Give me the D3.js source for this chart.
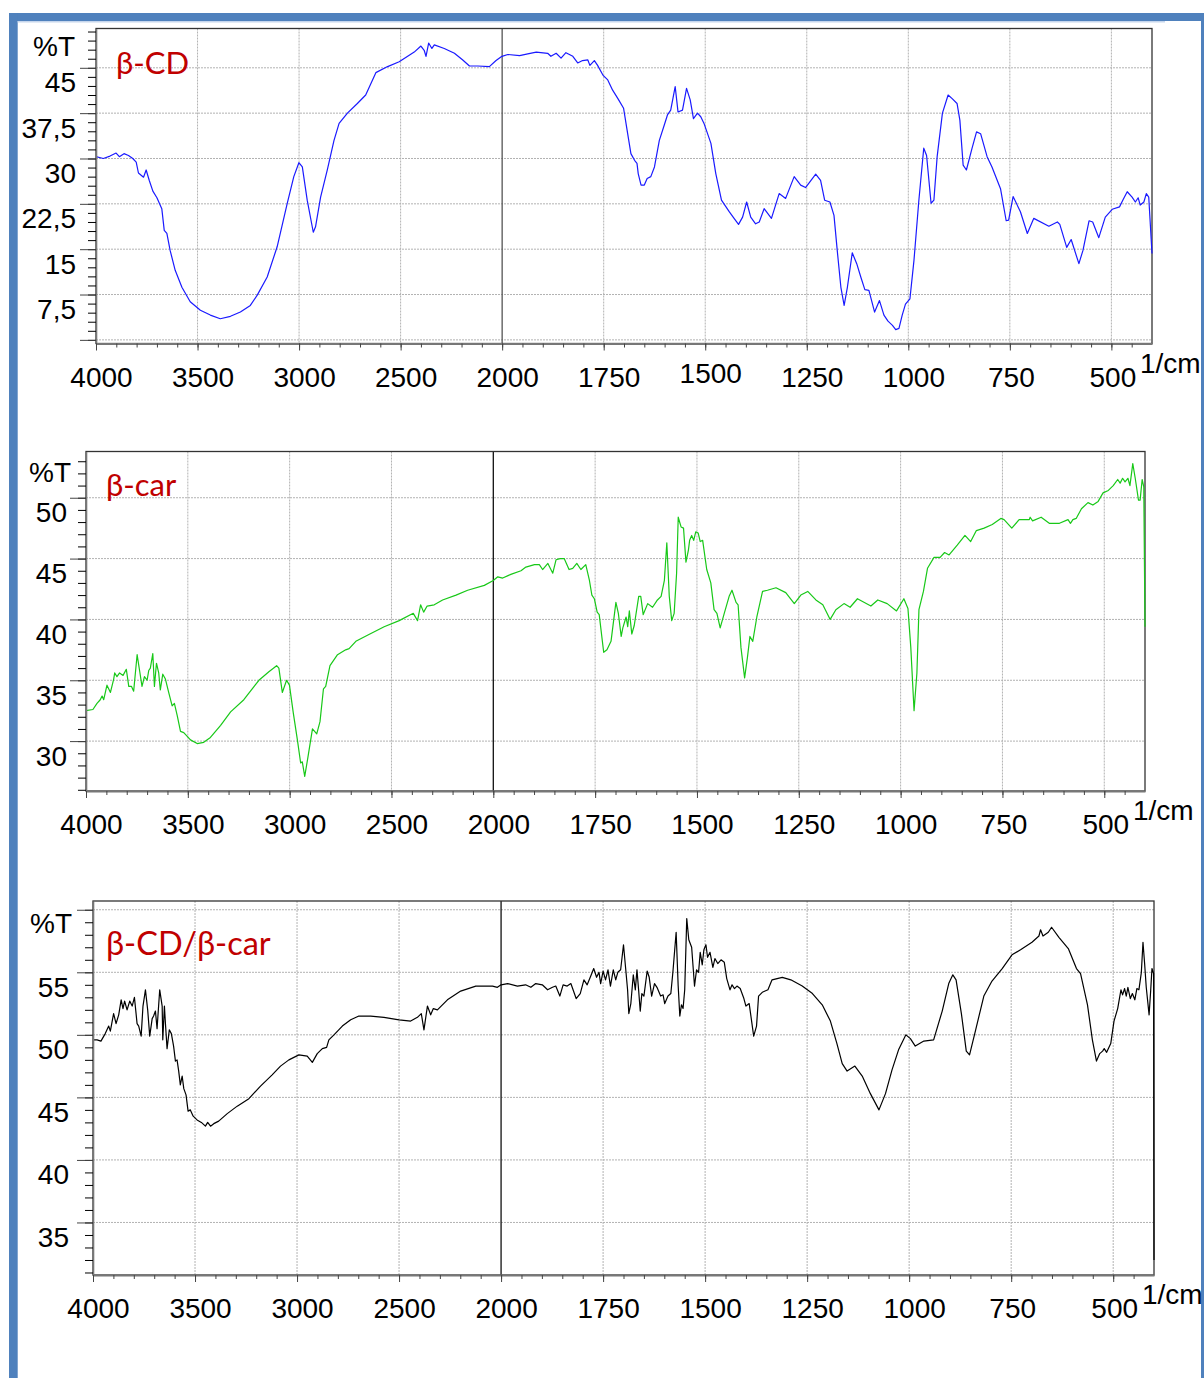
<!DOCTYPE html>
<html>
<head>
<meta charset="utf-8">
<script src="https://cdn.jsdelivr.net/npm/d3@7"></script>
<style>
  html, body { margin: 0; padding: 0; background: #fff; }
  svg { display: block; }
</style>
</head>
<body>
<svg id="chart" width="1204" height="1378"></svg>
<script>
'use strict';

// FTIR-Spektren: β-CD, β-Carotin und Einschlusskomplex.
// Die x-Achse ist zweigeteilt wie beim Shimadzu-Plot:
// 4000–2000 1/cm halb so breit skaliert wie 2000–400 1/cm.

const X_BREAKS = [4000, 2000, 400];
const X_MAJOR = [4000, 3500, 3000, 2500, 2000, 1750, 1500, 1250, 1000, 750, 500];
const X_LABELS = ['4000', '3500', '3000', '2500', '2000', '1750', '1500', '1250', '1000', '750', '500'];

const CD_TICKS = [0, 7.5, 15, 22.5, 30, 37.5, 45];
const CD_LABELS = ['', '7,5', '15', '22,5', '30', '37,5', '45'];
const CAR_TICKS = [30, 35, 40, 45, 50];
const CAR_LABELS = ['30', '35', '40', '45', '50'];
const MIX_TICKS = [35, 40, 45, 50, 55, 60];
const MIX_LABELS = ['35', '40', '45', '50', '55', ''];

// [Wellenzahl 1/cm, %T]
const betaCD = [[4000,30.3],[3964,30.0],[3931,30.4],[3901,30.9],[3885,30.3],[3862,30.8],[3840,30.5],[3819,30.0],[3802,29.4],[3791,27.6],[3766,26.9],[3753,28.1],[3738,26.4],[3720,24.6],[3700,23.5],[3676,21.7],[3664,18.1],[3651,17.6],[3635,14.8],[3610,11.5],[3577,8.7],[3536,6.3],[3486,4.9],[3437,4.1],[3388,3.5],[3338,3.9],[3289,4.6],[3240,5.7],[3206,7.4],[3157,10.4],[3108,15.4],[3058,22.6],[3026,27.0],[3001,29.3],[2984,28.6],[2960,23.1],[2930,17.8],[2919,18.7],[2894,23.6],[2861,28.1],[2828,33.0],[2803,35.8],[2762,37.5],[2713,39.1],[2672,40.5],[2622,44.2],[2564,45.2],[2507,46.0],[2433,47.6],[2400,48.6],[2384,47.9],[2375,46.9],[2362,49.1],[2346,48.2],[2334,48.8],[2285,48.2],[2235,47.4],[2194,46.3],[2161,45.3],[2120,45.3],[2063,45.2],[2030,46.2],[2001,46.9],[1986,47.2],[1957,47.0],[1937,47.3],[1916,47.6],[1888,47.4],[1880,46.9],[1867,47.4],[1855,46.6],[1843,47.5],[1826,46.9],[1814,45.8],[1802,46.2],[1789,46.3],[1784,45.4],[1773,46.2],[1765,45.4],[1752,43.8],[1740,43.0],[1728,41.3],[1715,39.9],[1701,38.3],[1691,34.1],[1683,30.8],[1674,29.7],[1668,29.2],[1665,27.5],[1658,25.6],[1650,25.6],[1643,26.7],[1634,27.0],[1625,28.6],[1613,33.0],[1601,35.5],[1593,37.2],[1585,38.0],[1574,41.9],[1567,37.7],[1556,38.0],[1546,41.6],[1537,39.7],[1529,36.6],[1519,37.5],[1511,36.9],[1503,35.8],[1486,32.5],[1474,27.5],[1460,23.1],[1441,21.2],[1429,20.1],[1418,19.1],[1408,20.3],[1398,22.8],[1388,20.3],[1376,19.2],[1367,19.5],[1355,21.7],[1337,20.1],[1318,24.2],[1302,23.4],[1281,27.0],[1265,25.6],[1253,25.2],[1228,27.4],[1216,26.4],[1206,23.1],[1193,22.8],[1183,20.6],[1175,14.8],[1166,8.7],[1158,5.7],[1150,8.7],[1138,14.4],[1127,12.6],[1117,10.4],[1107,8.3],[1097,8.2],[1083,4.6],[1071,6.5],[1060,4.1],[1050,3.1],[1039,2.4],[1031,1.7],[1023,1.9],[1015,4.1],[1007,5.9],[996,6.8],[986,13.2],[974,23.1],[962,31.7],[955,30.5],[944,22.6],[937,23.1],[929,30.3],[916,37.5],[902,40.5],[892,39.9],[880,39.1],[873,36.3],[865,28.9],[857,28.1],[843,31.7],[832,34.4],[822,34.1],[806,30.3],[794,28.6],[773,25.0],[759,19.7],[753,19.8],[742,23.7],[724,21.2],[707,17.6],[691,20.1],[654,18.8],[633,19.5],[627,19.1],[610,15.3],[599,16.6],[580,12.6],[570,14.8],[555,19.7],[546,19.5],[531,16.9],[515,20.3],[498,21.6],[480,22.0],[471,23.2],[461,24.5],[449,23.6],[441,22.8],[434,23.5],[429,22.3],[420,22.8],[414,24.2],[408,23.6],[400,14.3]];

const betaCar = [[4000,32.5],[3966,32.6],[3946,33.1],[3930,33.4],[3921,33.7],[3913,33.4],[3897,34.6],[3880,34.0],[3864,35.1],[3859,35.6],[3848,35.3],[3835,35.6],[3818,35.4],[3802,35.9],[3790,34.5],[3777,34.5],[3766,34.1],[3749,37.1],[3736,35.7],[3725,34.5],[3713,35.3],[3700,35.0],[3692,35.8],[3684,36.0],[3672,37.2],[3664,34.5],[3654,36.4],[3643,35.6],[3635,34.2],[3623,35.5],[3610,35.1],[3594,34.0],[3577,32.9],[3566,33.1],[3552,32.1],[3536,30.8],[3520,30.7],[3487,30.1],[3454,29.8],[3422,29.9],[3389,30.3],[3339,31.3],[3290,32.4],[3225,33.4],[3151,35.0],[3102,35.7],[3064,36.2],[3053,36.0],[3036,34.0],[3015,35.0],[3001,34.6],[2982,32.3],[2962,30.1],[2946,28.2],[2938,28.3],[2926,27.1],[2910,28.7],[2888,31.0],[2867,30.6],[2851,31.6],[2834,34.3],[2823,34.5],[2802,36.2],[2765,37.1],[2725,37.5],[2708,37.6],[2675,38.2],[2618,38.7],[2536,39.4],[2462,39.9],[2393,40.5],[2372,39.9],[2357,41.2],[2342,40.6],[2325,41.1],[2290,41.2],[2249,41.6],[2183,42.0],[2126,42.4],[2044,42.8],[2000,43.2],[1989,43.5],[1977,43.4],[1957,43.7],[1932,44.0],[1920,44.3],[1899,44.5],[1887,44.5],[1879,44.1],[1866,44.6],[1854,43.8],[1846,44.9],[1836,45.0],[1826,45.0],[1814,44.1],[1805,44.2],[1795,44.6],[1785,44.1],[1773,44.5],[1764,43.2],[1758,42.0],[1752,41.7],[1745,40.6],[1740,40.4],[1729,37.3],[1721,37.5],[1711,38.2],[1699,41.4],[1693,40.5],[1686,38.6],[1682,39.3],[1674,40.2],[1670,39.4],[1666,40.7],[1660,38.8],[1654,39.5],[1643,41.9],[1638,41.9],[1632,40.4],[1621,41.3],[1609,41.0],[1597,41.6],[1588,41.9],[1580,43.2],[1574,46.3],[1568,41.9],[1562,39.9],[1556,40.5],[1550,43.8],[1546,48.4],[1539,47.6],[1533,47.5],[1527,44.7],[1521,45.7],[1518,46.5],[1513,46.9],[1508,46.5],[1503,47.2],[1497,47.1],[1492,46.4],[1486,46.5],[1476,44.1],[1466,43.0],[1458,40.8],[1451,40.5],[1443,39.3],[1433,40.5],[1421,41.9],[1414,42.4],[1404,41.4],[1399,41.2],[1392,37.7],[1383,35.2],[1376,36.9],[1370,38.6],[1363,38.2],[1353,40.2],[1339,42.3],[1327,42.4],[1306,42.6],[1282,42.2],[1261,41.3],[1245,42.0],[1228,42.3],[1208,41.6],[1191,41.2],[1173,40.0],[1159,40.8],[1139,41.3],[1124,41.0],[1106,41.7],[1073,41.1],[1056,41.6],[1033,41.3],[1010,40.7],[992,41.7],[982,40.9],[975,37.7],[967,32.5],[960,35.6],[955,40.8],[944,42.3],[934,44.2],[918,45.1],[903,45.1],[892,45.5],[881,45.3],[861,46.1],[842,46.9],[828,46.4],[814,47.3],[795,47.5],[775,47.8],[754,48.3],[746,48.2],[727,47.5],[709,48.2],[684,48.2],[682,48.4],[676,48.1],[655,48.4],[635,47.9],[610,47.9],[589,48.2],[583,47.9],[577,48.2],[569,48.3],[556,49.1],[540,49.6],[528,49.4],[515,49.7],[503,50.4],[490,50.6],[478,51.0],[467,51.5],[461,51.2],[455,51.6],[449,51.3],[442,51.6],[437,51.0],[430,52.8],[424,51.6],[416,49.8],[412,49.8],[407,51.5],[403,50.9],[400,39.4]];

const betaMix = [[4000,49.6],[3980,49.6],[3961,49.5],[3940,50.1],[3923,50.7],[3915,50.3],[3899,51.7],[3887,50.9],[3874,51.6],[3862,52.8],[3853,52.1],[3845,52.7],[3833,52.0],[3820,52.7],[3808,52.3],[3797,53.0],[3784,50.9],[3776,50.7],[3764,49.9],[3755,52.3],[3743,53.6],[3732,52.0],[3722,49.9],[3710,51.3],[3703,51.5],[3694,51.9],[3686,50.5],[3673,53.6],[3661,52.3],[3658,49.6],[3650,52.3],[3645,50.9],[3637,48.9],[3626,50.4],[3616,50.1],[3605,49.1],[3596,47.9],[3588,48.0],[3580,47.1],[3572,46.0],[3563,46.7],[3555,45.7],[3544,45.2],[3534,43.9],[3523,44.0],[3509,43.5],[3490,43.2],[3469,43.0],[3449,42.7],[3438,43.0],[3424,42.7],[3408,42.9],[3384,43.1],[3342,43.7],[3293,44.3],[3236,44.9],[3179,45.9],[3122,46.8],[3081,47.5],[3040,48.0],[2991,48.4],[2950,48.3],[2925,47.8],[2901,48.5],[2876,48.9],[2855,49.0],[2844,49.6],[2819,50.0],[2778,50.7],[2737,51.2],[2697,51.5],[2639,51.5],[2574,51.4],[2500,51.2],[2443,51.1],[2410,51.4],[2391,51.7],[2378,50.4],[2361,52.3],[2345,51.6],[2332,52.1],[2312,52.0],[2263,52.8],[2198,53.5],[2124,53.9],[2042,53.9],[2018,53.8],[2000,54.0],[1984,54.1],[1960,53.9],[1940,54.0],[1927,53.8],[1915,54.1],[1899,54.0],[1886,53.6],[1874,53.8],[1866,53.9],[1856,53.1],[1848,54.0],[1838,53.9],[1829,54.1],[1816,52.9],[1806,53.3],[1797,54.4],[1789,54.0],[1779,54.8],[1773,55.3],[1766,54.6],[1760,55.0],[1756,54.1],[1750,55.1],[1744,54.4],[1738,55.2],[1732,53.9],[1725,55.2],[1719,54.4],[1714,55.0],[1707,55.2],[1700,57.2],[1695,55.4],[1690,53.6],[1687,51.7],[1682,52.5],[1676,54.8],[1671,53.6],[1667,55.2],[1663,53.6],[1659,51.9],[1655,53.3],[1650,53.1],[1642,55.1],[1637,54.6],[1631,53.1],[1624,54.1],[1618,53.8],[1609,53.1],[1603,53.2],[1599,52.5],[1591,53.1],[1584,53.3],[1579,55.0],[1571,58.2],[1566,53.9],[1562,51.5],[1558,52.4],[1554,52.1],[1550,53.6],[1545,59.3],[1540,57.6],[1533,57.0],[1526,53.9],[1521,55.2],[1516,55.0],[1512,56.6],[1507,55.6],[1503,56.8],[1498,57.2],[1494,56.2],[1488,56.6],[1481,55.4],[1476,56.1],[1469,55.7],[1461,56.0],[1453,55.8],[1447,54.5],[1439,53.6],[1434,54.0],[1428,53.7],[1422,53.9],[1414,53.7],[1405,52.9],[1400,52.3],[1392,52.5],[1381,49.9],[1374,50.7],[1369,53.1],[1360,53.4],[1346,53.6],[1336,54.4],[1311,54.6],[1290,54.4],[1262,53.9],[1237,53.3],[1213,52.4],[1193,51.1],[1177,49.3],[1164,47.7],[1152,47.1],[1133,47.5],[1115,46.7],[1095,45.3],[1074,44.0],[1058,45.3],[1042,47.2],[1026,48.8],[1008,50.0],[997,49.7],[985,49.1],[964,49.5],[940,49.6],[919,51.9],[903,54.1],[893,54.8],[885,54.4],[872,51.7],[860,48.7],[852,48.4],[837,50.4],[817,53.1],[797,54.3],[772,55.3],[748,56.4],[727,56.8],[699,57.4],[682,57.9],[678,58.4],[672,57.9],[659,58.2],[651,58.6],[633,57.8],[610,56.9],[590,55.3],[580,54.9],[563,52.4],[551,49.6],[541,47.9],[533,48.5],[526,48.7],[522,48.9],[516,48.6],[506,49.3],[498,51.1],[489,52.1],[481,53.6],[477,53.2],[472,53.7],[468,53.1],[464,53.8],[458,52.9],[453,53.3],[447,52.8],[442,53.7],[437,53.6],[431,55.0],[427,57.4],[423,55.7],[419,53.8],[412,51.6],[408,53.6],[405,55.3],[401,54.9],[400,32.0]];

const FONT = '"Liberation Sans", Arial, sans-serif';
const TITLE_FONT = 'Lato, "Open Sans", sans-serif';
const TITLE_RED = '#c00000';
const FRAME_BLUE = '#4f81bd';

const panels = [
  { title: 'β-CD', data: betaCD, color: '#1a1aff', divider: '#555',
    left: 96, right: 1152, top: 28.5, bottom: 343.5,
    yDomain: [-0.6, 51.5], yTicks: CD_TICKS, yLabels: CD_LABELS, yMinor: [0, 51, 1.5],
    labelGap: 4, unitX: 75, unitY: 56, titleX: 116, titleY: 74, titleSize: 31, raised: 1500 },
  { title: 'β-car', data: betaCar, color: '#18c818', divider: '#111',
    left: 86, right: 1145, top: 451.5, bottom: 791,
    yDomain: [25.9, 53.8], yTicks: CAR_TICKS, yLabels: CAR_LABELS, yMinor: [26, 53, 1],
    labelGap: 3, unitX: 71, unitY: 482, titleX: 106, titleY: 496, titleSize: 31, raised: null },
  { title: 'β-CD/β-car', data: betaMix, color: '#000', divider: '#111',
    left: 93, right: 1154, top: 901, bottom: 1275,
    yDomain: [30.8, 60.7], yTicks: MIX_TICKS, yLabels: MIX_LABELS, yMinor: [31, 60, 1],
    labelGap: 8, unitX: 72, unitY: 933, titleX: 106, titleY: 955, titleSize: 32.5, raised: null }
];

const svg = d3.select('#chart');

// blauer Rahmen wie im Original-Dokument
svg.append('rect').attr('x', 9).attr('y', 13).attr('width', 1195).attr('height', 8).attr('fill', FRAME_BLUE);
svg.append('rect').attr('x', 9).attr('y', 13).attr('width', 8.7).attr('height', 1365).attr('fill', FRAME_BLUE);
svg.append('rect').attr('x', 1201).attr('y', 13).attr('width', 3).attr('height', 1365).attr('fill', FRAME_BLUE);
svg.append('line').attr('x1', 17.7).attr('x2', 1165).attr('y1', 21.8).attr('y2', 21.8)
  .attr('stroke', '#c6d6ec').attr('stroke-width', 1.5);

function drawPanel(p) {
  const g = svg.append('g');
  const split = p.left + (p.right - p.left) * 2000 / 5200;
  const x = d3.scaleLinear().domain(X_BREAKS).range([p.left, split, p.right]);
  const y = d3.scaleLinear().domain(p.yDomain).range([p.bottom, p.top]);

  // Gitter
  g.append('g').selectAll('line').data(p.yTicks).join('line')
    .attr('x1', p.left).attr('x2', p.right)
    .attr('y1', d => y(d)).attr('y2', d => y(d))
    .attr('stroke', '#b2b2b2').attr('stroke-width', 1).attr('stroke-dasharray', '2,1');
  g.append('g').selectAll('line').data(X_MAJOR.filter(v => v !== 4000 && v !== 2000)).join('line')
    .attr('x1', d => x(d)).attr('x2', d => x(d))
    .attr('y1', p.top).attr('y2', p.bottom)
    .attr('stroke', '#b2b2b2').attr('stroke-width', 1).attr('stroke-dasharray', '2,1');

  // Trennlinie bei 2000 1/cm
  g.append('line')
    .attr('x1', x(2000)).attr('x2', x(2000)).attr('y1', p.top).attr('y2', p.bottom)
    .attr('stroke', p.divider).attr('stroke-width', 1.3);

  g.append('rect')
    .attr('x', p.left).attr('y', p.top)
    .attr('width', p.right - p.left).attr('height', p.bottom - p.top)
    .attr('fill', 'none').attr('stroke', '#333').attr('stroke-width', 1.3);

  // Spektrum
  g.append('path')
    .datum(p.data)
    .attr('d', d3.line().x(d => x(d[0])).y(d => y(d[1])))
    .attr('fill', 'none')
    .attr('stroke', p.color)
    .attr('stroke-width', 1.2)
    .attr('stroke-linejoin', 'round');

  // y-Achse: kleine Striche + beschriftete Hauptstriche
  const minorY = d3.range(p.yMinor[0], p.yMinor[1] + 1e-6, p.yMinor[2]);
  g.append('g').attr('transform', `translate(${p.left},0)`)
    .call(d3.axisLeft(y).tickValues(minorY).tickSize(8).tickSizeOuter(0).tickFormat(''))
    .call(a => a.select('.domain').attr('stroke', '#777').attr('stroke-width', 1.6));

  const yAxis = g.append('g').attr('transform', `translate(${p.left},0)`)
    .call(d3.axisLeft(y).tickValues(p.yTicks).tickSize(16).tickSizeOuter(0).tickPadding(p.labelGap)
      .tickFormat((d, i) => p.yLabels[i]));
  yAxis.select('.domain').remove();
  yAxis.selectAll('.tick line').attr('stroke', '#444');
  yAxis.selectAll('.tick text')
    .attr('dy', 0).attr('y', 24)
    .attr('fill', '#000').attr('font-family', FONT).attr('font-size', 28);

  // x-Achse
  const minorX = d3.range(4000, 2000, -100).concat(d3.range(2000, 400, -50));
  g.append('g').attr('transform', `translate(0,${p.bottom})`)
    .call(d3.axisBottom(x).tickValues(minorX).tickSize(4).tickSizeOuter(0).tickFormat(''))
    .call(a => a.select('.domain').attr('stroke', '#777').attr('stroke-width', 1.8))
    .call(a => a.selectAll('.tick line').attr('stroke', '#444'));

  const xAxis = g.append('g').attr('transform', `translate(0,${p.bottom})`)
    .call(d3.axisBottom(x).tickValues(X_MAJOR).tickSize(7).tickSizeOuter(0)
      .tickFormat((d, i) => X_LABELS[i]));
  xAxis.select('.domain').remove();
  xAxis.selectAll('.tick line').attr('stroke', '#444');
  xAxis.selectAll('.tick text')
    .attr('dy', 0).attr('y', d => (d === p.raised ? 39 : 43))
    .attr('dx', d => (d >= 1000 ? 5 : 1))
    .attr('fill', '#000').attr('font-family', FONT).attr('font-size', 28);

  g.append('text')
    .attr('x', p.unitX).attr('y', p.unitY)
    .attr('text-anchor', 'end')
    .attr('font-family', FONT).attr('font-size', 28)
    .text('%T');

  g.append('text')
    .attr('x', p.right - 12).attr('y', p.bottom + 29)
    .attr('font-family', FONT).attr('font-size', 28)
    .text('1/cm');

  g.append('text')
    .attr('x', p.titleX).attr('y', p.titleY)
    .attr('font-family', TITLE_FONT).attr('font-size', p.titleSize)
    .attr('fill', TITLE_RED)
    .text(p.title);
}

panels.forEach(drawPanel);
</script>
</body>
</html>
